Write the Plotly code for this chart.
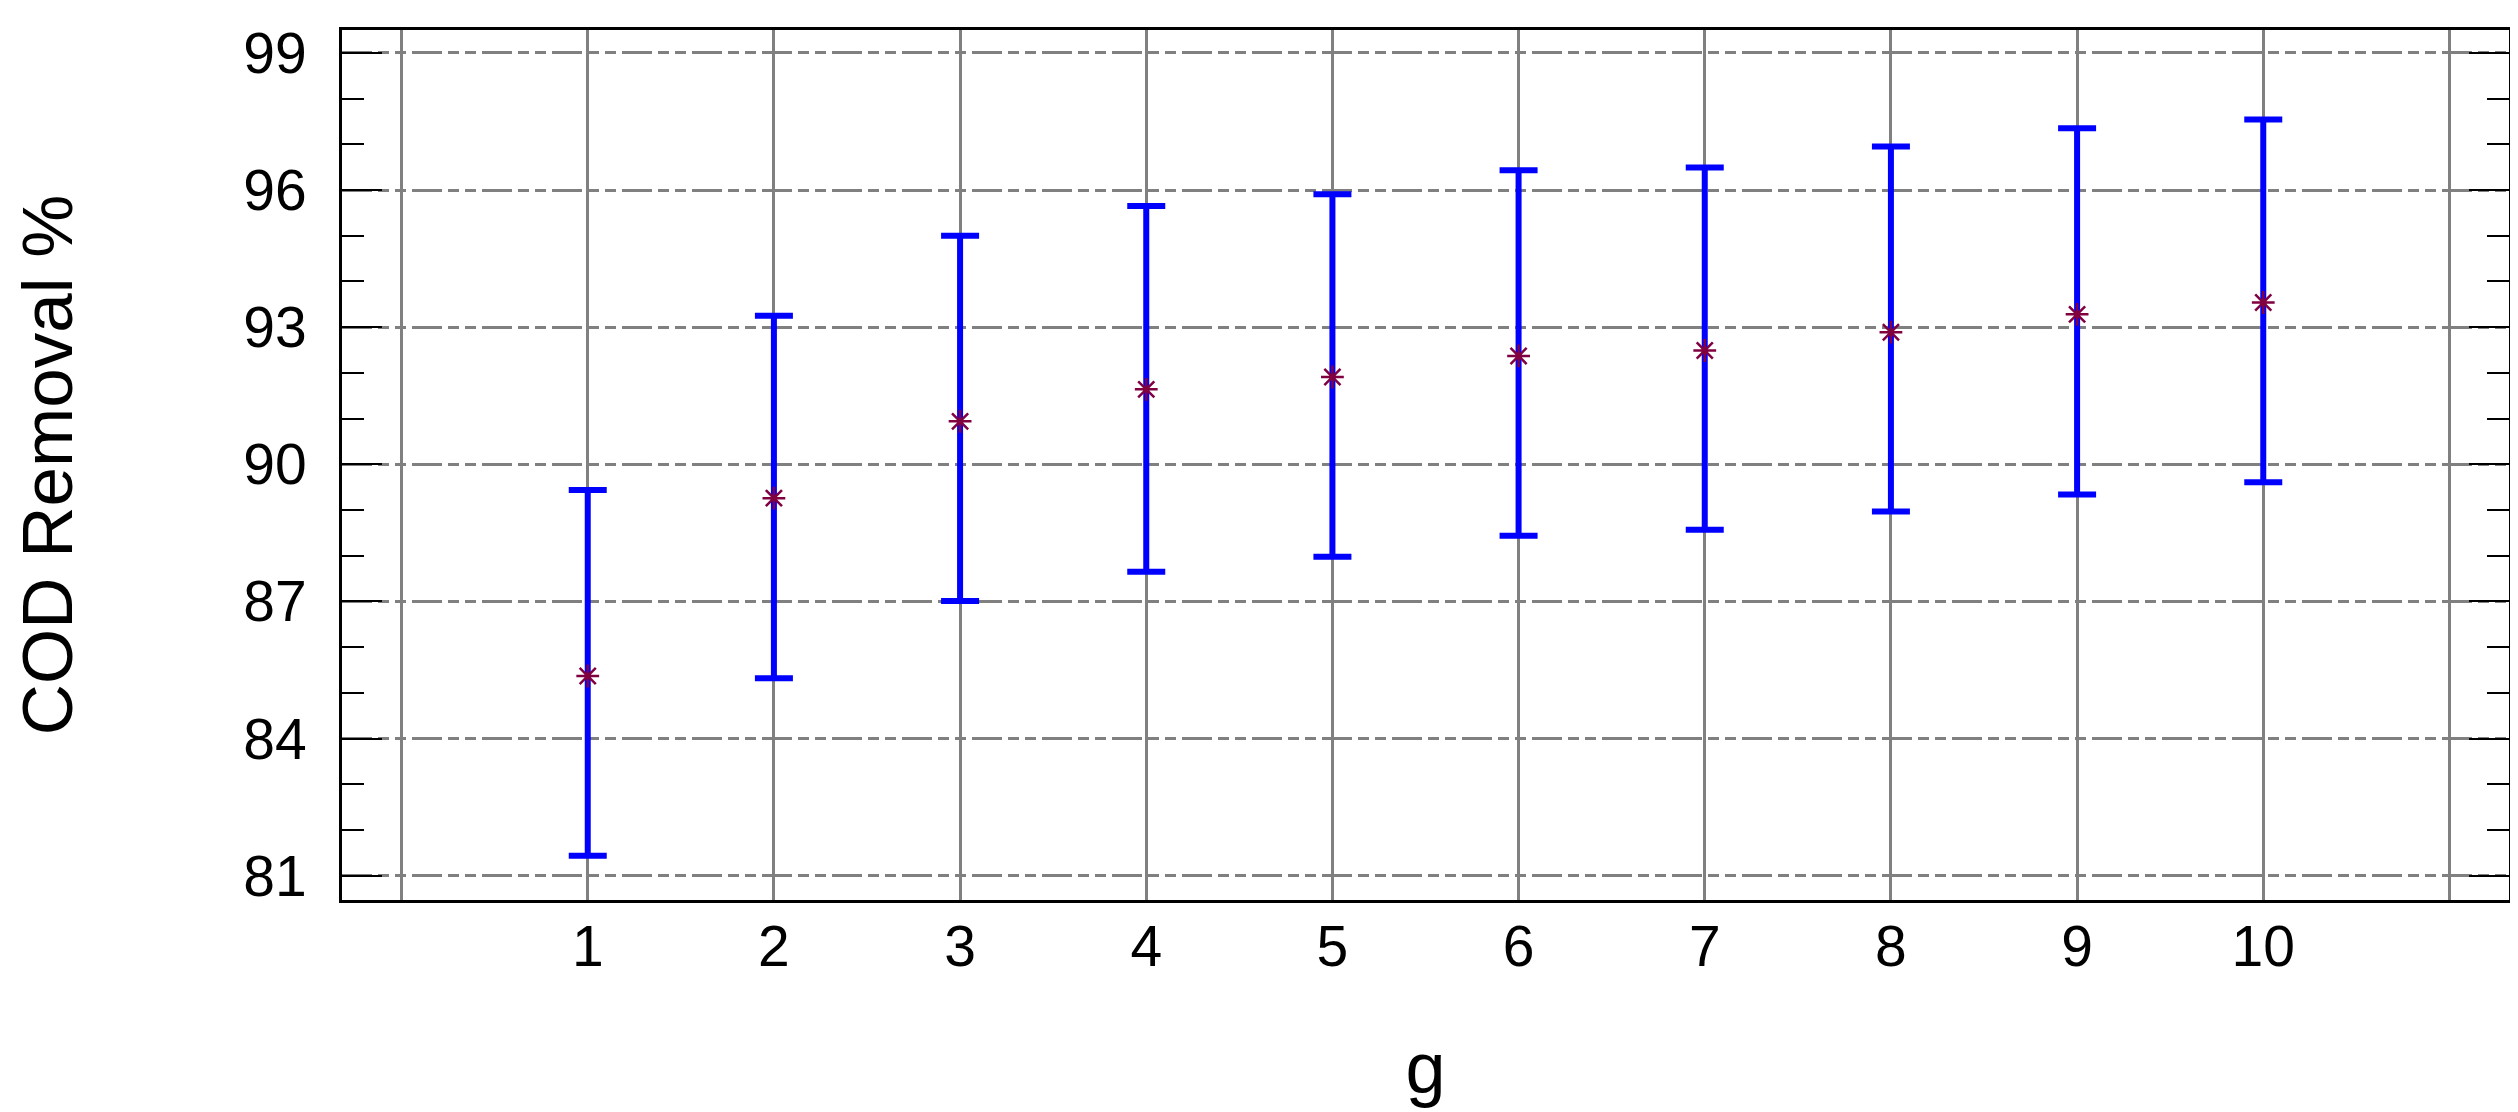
import plotly.graph_objects as go

# niveles de g y resultados
g = [1, 2, 3, 4, 5, 6, 7, 8, 9, 10]
media = [85.37, 89.26, 90.94, 91.64, 91.91, 92.37, 92.49, 92.89, 93.28, 93.54]
limite_sup = [89.44, 93.25, 95.00, 95.65, 95.91, 96.43, 96.49, 96.95, 97.35, 97.54]
limite_inf = [81.44, 85.32, 87.01, 87.65, 87.98, 88.44, 88.57, 88.97, 89.34, 89.61]

x_ticks = list(range(0, 12))
x_labels = [""] + [str(v) for v in g] + [""]
y_ticks = [81, 84, 87, 90, 93, 96, 99]

err_plus = [s - m for s, m in zip(limite_sup, media)]
err_minus = [m - i for m, i in zip(media, limite_inf)]

fuente = "Arial, Liberation Sans, sans-serif"

fig = go.Figure()
fig.add_trace(go.Scatter(
    x=g, y=media, mode="markers",
    marker=dict(symbol="asterisk-open", size=19, color="#800040",
                line=dict(width=2.5, color="#800040")),
    error_y=dict(type="data", symmetric=False, array=err_plus,
                 arrayminus=err_minus, color="#0000FF", thickness=6, width=19),
    showlegend=False,
))

fig.update_layout(
    width=2518, height=1112,
    margin=dict(l=334, r=17, t=22, b=220),
    paper_bgcolor="white", plot_bgcolor="white",
    font=dict(family=fuente, color="black"),
    xaxis=dict(
        range=[-0.32, 11.32], automargin=False,
        tickvals=x_ticks, ticktext=x_labels,
        ticks="", showgrid=True, gridcolor="#808080", gridwidth=2.5,
        zeroline=False, showline=True, linecolor="black", linewidth=3,
        mirror=True, tickfont=dict(size=57), ticklabelstandoff=-5,
        title=dict(text="g", font=dict(size=72), standoff=66),
    ),
    yaxis=dict(
        range=[80.47, 99.5], automargin=False,
        tickvals=y_ticks,
        ticks="inside", ticklen=40, tickwidth=2, tickcolor="black",
        minor=dict(dtick=1, ticks="inside", ticklen=22, tickwidth=2,
                   tickcolor="black", showgrid=False),
        showgrid=True, gridcolor="#808080", gridwidth=2.5,
        griddash="30px,6px,11px,6px,11px,6px",
        zeroline=False, showline=True, linecolor="black", linewidth=3,
        mirror="ticks", tickfont=dict(size=57), ticklabelstandoff=21,
        title=dict(text="COD Removal %", font=dict(size=71), standoff=161),
    ),
)

fig.write_html("out.html")
